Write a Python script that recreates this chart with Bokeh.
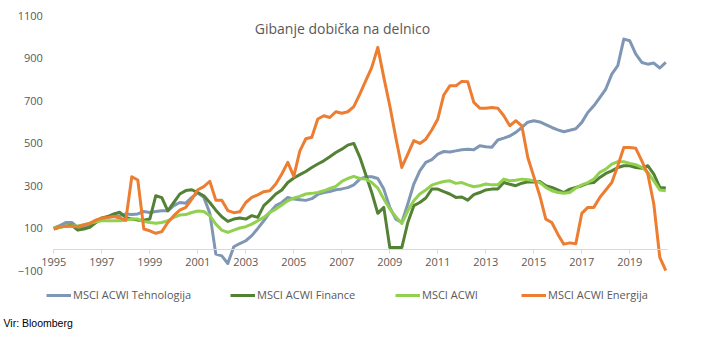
from bokeh.plotting import figure
from bokeh.models import FixedTicker, Label, Legend, LegendItem, Range1d
from bokeh.embed import file_html
from bokeh.resources import INLINE

# ---- data (quarterly, 1995Q1 .. 2020Q3) ----
start_year = 1995
tech = [100, 111, 126, 126, 103, 106, 111, 126, 142, 150, 154, 158,
        166, 163, 166, 178, 173, 178, 181, 181, 205, 220, 217, 244,
        265, 244, 170, -23, -31, -67, 12, 27, 40, 64, 98, 134,
        173, 205, 220, 244, 236, 233, 230, 238, 258, 267, 272, 280,
        284, 290, 303, 330, 341, 341, 333, 283, 197, 142, 126, 213,
        307, 369, 409, 422, 448, 460, 458, 463, 468, 471, 468, 487,
        482, 480, 514, 523, 533, 550, 573, 598, 605, 599, 586, 573,
        562, 553, 560, 567, 597, 644, 675, 714, 754, 824, 864, 989,
        981, 918, 879, 871, 876, 853, 879]
finance = [95, 103, 110, 113, 90, 95, 103, 126, 147, 154, 166, 174,
           150, 142, 137, 137, 142, 252, 243, 181, 220, 260, 276, 280,
           267, 252, 220, 184, 153, 131, 142, 147, 142, 158, 150, 205,
           231, 260, 279, 314, 335, 351, 366, 385, 401, 416, 435, 455,
           471, 490, 498, 434, 351, 266, 169, 197, 8, 8, 8, 126,
           205, 220, 241, 283, 283, 271, 260, 244, 246, 231, 257, 267,
           279, 283, 283, 314, 306, 299, 311, 317, 317, 319, 299, 291,
           279, 267, 283, 291, 299, 310, 314, 338, 357, 369, 385, 393,
           393, 385, 381, 393, 354, 291, 288]
acwi = [100, 103, 108, 110, 110, 115, 122, 129, 134, 134, 134, 134,
        137, 142, 142, 131, 126, 122, 126, 134, 150, 161, 163, 173,
        180, 178, 158, 118, 90, 79, 90, 100, 106, 118, 134, 150,
        173, 189, 208, 228, 241, 249, 260, 263, 267, 275, 286, 296,
        319, 333, 343, 333, 330, 314, 288, 236, 189, 153, 121, 181,
        228, 260, 279, 302, 311, 319, 322, 310, 314, 303, 294, 299,
        307, 303, 303, 330, 322, 325, 330, 327, 322, 314, 291, 275,
        267, 264, 267, 288, 303, 314, 330, 362, 377, 401, 412, 412,
        404, 398, 385, 362, 322, 279, 275]
energy = [95, 106, 108, 108, 106, 114, 122, 137, 147, 150, 154, 147,
          137, 341, 326, 95, 87, 75, 83, 126, 158, 184, 197, 236,
          280, 295, 320, 231, 231, 182, 172, 176, 220, 244, 256, 271,
          275, 307, 354, 409, 343, 462, 520, 527, 613, 628, 620, 647,
          640, 647, 671, 730, 793, 856, 950, 809, 675, 526, 385, 448,
          511, 498, 518, 561, 613, 726, 769, 769, 790, 788, 691, 664,
          664, 667, 664, 628, 581, 605, 581, 432, 342, 252, 142, 126,
          71, 24, 30, 26, 169, 197, 197, 244, 279, 314, 393, 479,
          479, 475, 416, 354, 213, -38, -101]

x_ticks = [1995, 1997, 1999, 2001, 2003, 2005, 2007, 2009, 2011, 2013, 2015, 2017, 2019]
y_ticks = [-100, 100, 300, 500, 700, 900, 1100]

series_names = ["MSCI ACWI Tehnologija", "MSCI ACWI Finance", "MSCI ACWI", "MSCI ACWI Energija"]
series_values = [tech, finance, acwi, energy]
series_colors = ["#7f97b5", "#548235", "#92d050", "#ed7d31"]

title_text = "Gibanje dobička na delnico"
source_text = "Vir: Bloomberg"

quarters = [start_year + i * 0.25 for i in range(len(tech))]

FONT = "Open Sans"
GREY = "#595959"
W, H = 704, 357

# plot area spans the whole canvas; axes are drawn at fixed positions inside it
# x: 1995 at px 53.3, 24 px per year; y: 0 at px 248.75, 255 px per 1200 units
x_start = 1995 - 53.3 / 24.0
x_end = x_start + W / 24.0
upp = 1200.0 / 255.0
y_end = 1100 + 15 * upp
y_start = y_end - H * upp

p = figure(width=W, height=H, output_backend="svg", toolbar_location=None,
           x_range=Range1d(x_start, x_end), y_range=Range1d(y_start, y_end),
           min_border_left=0, min_border_right=0, min_border_top=0,
           min_border_bottom=0, title=None)
p.outline_line_color = None
p.xgrid.visible = False
p.ygrid.visible = False
p.background_fill_color = "white"
p.border_fill_color = "white"

# x axis drawn at y = 0
xa = p.xaxis[0]
xa.fixed_location = 0
xa.bounds = (1995, 2020.57)
xa.ticker = FixedTicker(ticks=x_ticks)
xa.axis_line_color = "#d9d9d9"
xa.major_tick_line_color = "#d9d9d9"
xa.major_tick_out = 4
xa.major_tick_in = 0
xa.minor_tick_line_color = None
xa.major_label_standoff = 5
xa.major_label_text_font = FONT
xa.major_label_text_font_size = "11px"
xa.major_label_text_color = GREY

ya = p.yaxis[0]
ya.fixed_location = 1995
ya.ticker = FixedTicker(ticks=y_ticks)
ya.axis_line_color = None
ya.major_tick_line_color = None
ya.minor_tick_line_color = None
ya.major_tick_out = 0
ya.major_tick_in = 0
ya.major_label_standoff = 11
ya.major_label_text_font = FONT
ya.major_label_text_font_size = "11px"
ya.major_label_text_color = GREY

renderers = []
for vals, col in zip(series_values, series_colors):
    r = p.line(quarters, vals, line_color=col, line_width=3, line_join="round")
    renderers.append(r)

# legends, one per series, below the plot area (screen px from bottom-left)
legend_x = [46, 230, 395, 521]
for name, r, lx in zip(series_names, renderers, legend_x):
    lg = Legend(items=[LegendItem(label=name, renderers=[r])],
                location=(lx, H - 302), orientation="horizontal",
                padding=0, margin=0, spacing=0,
                glyph_width=25, glyph_height=14, label_height=14,
                label_standoff=2, border_line_color=None,
                background_fill_alpha=0,
                label_text_font=FONT, label_text_font_size="11px",
                label_text_color=GREY)
    p.add_layout(lg)

p.add_layout(Label(x=342, y=H - 28, x_units="screen", y_units="screen",
                   text=title_text, text_align="center", text_baseline="middle",
                   text_font=FONT, text_font_size="14px", text_color=GREY))
p.add_layout(Label(x=3, y=H - 322, x_units="screen", y_units="screen",
                   text=source_text, text_align="left", text_baseline="middle",
                   text_font="Liberation Sans", text_font_size="10.5px",
                   text_color="black"))

open("out.html", "w").write(file_html(p, INLINE))
